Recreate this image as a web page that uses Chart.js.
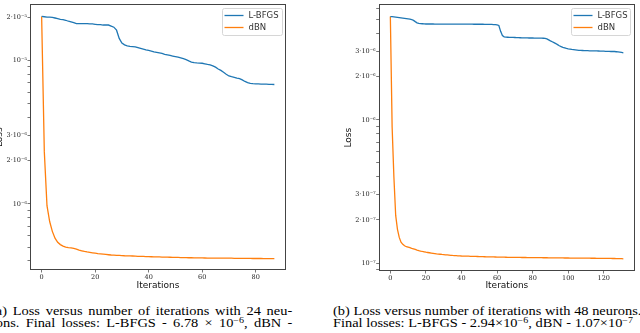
<!DOCTYPE html>
<html>
<head>
<meta charset="utf-8">
<script src="https://cdn.jsdelivr.net/npm/chart.js@4"></script>
<style>
  html, body { margin: 0; padding: 0; background: #fff; }
  body { width: 640px; height: 333px; position: relative; overflow: hidden; }
  canvas { position: absolute; top: 0; }
  #chart24 { left: -8px; }
  #chart48 { left: 330px; }
  .cap { position: absolute; top: 306px; width: 251px; font-family: "Liberation Serif", serif; font-size: 12px; line-height: 11.5px; color: #000;
         transform: scaleX(1.2); transform-origin: 0 0; }
  .cap div { white-space: nowrap; }
  .cap .j { text-align: justify; text-align-last: justify; }
  .cap sup { font-size: 0.7em; vertical-align: 0; position: relative; top: -0.45em; line-height: 0; }
  #cap24 { left: -9px; }
  #cap48 { left: 333px; }
</style>
</head>
<body>
<canvas id="chart24" width="302" height="296"></canvas>
<canvas id="chart48" width="310" height="297"></canvas>
<div class="cap" id="cap24">
  <div class="j">(a) Loss versus number of iterations with 24 neu-</div>
  <div class="j">rons. Final losses: L-BFGS - 6.78 × 10<sup>−6</sup>, dBN -</div>
</div>
<div class="cap" id="cap48">
  <div class="j">(b) Loss versus number of iterations with 48 neurons.</div>
  <div>Final losses: L-BFGS - 2.94×10<sup>−6</sup>, dBN - 1.07×10<sup>−7</sup></div>
</div>
<script>
// series labels
const seriesNames = ["L-BFGS", "dBN"];

// loss per iteration, 24 neurons (iterations 0..87)
const lbfgs24 = [
  2.02e-5, 2.01e-5, 2.00e-5, 2.00e-5, 1.99e-5, 1.97e-5, 1.95e-5, 1.93e-5, 1.92e-5, 1.90e-5,
  1.87e-5, 1.85e-5, 1.83e-5, 1.80e-5, 1.80e-5, 1.80e-5, 1.80e-5, 1.80e-5, 1.79e-5, 1.79e-5,
  1.78e-5, 1.77e-5, 1.77e-5, 1.76e-5, 1.76e-5, 1.76e-5, 1.73e-5, 1.70e-5, 1.62e-5, 1.42e-5,
  1.32e-5, 1.28e-5, 1.26e-5, 1.25e-5, 1.245e-5, 1.24e-5, 1.225e-5, 1.21e-5, 1.195e-5, 1.18e-5,
  1.17e-5, 1.16e-5, 1.145e-5, 1.135e-5, 1.125e-5, 1.115e-5, 1.10e-5, 1.09e-5, 1.08e-5, 1.07e-5,
  1.06e-5, 1.05e-5, 1.04e-5, 1.025e-5, 1.01e-5, 9.9e-6, 9.72e-6, 9.62e-6, 9.58e-6, 9.55e-6,
  9.53e-6, 9.45e-6, 9.37e-6, 9.30e-6, 9.15e-6, 8.95e-6, 8.7e-6, 8.5e-6, 8.25e-6, 8.0e-6,
  7.77e-6, 7.68e-6, 7.6e-6, 7.52e-6, 7.45e-6, 7.3e-6, 7.12e-6, 6.98e-6, 6.9e-6, 6.87e-6,
  6.85e-6, 6.84e-6, 6.83e-6, 6.82e-6, 6.81e-6, 6.80e-6, 6.79e-6, 6.78e-6
];
const dbn24 = [
  2.02e-5, 2.31e-6, 9.7e-7, 7.53e-7, 6.43e-7, 5.76e-7, 5.4e-7, 5.2e-7, 5.08e-7, 5.0e-7,
  4.96e-7, 4.94e-7, 4.9e-7, 4.84e-7, 4.76e-7, 4.71e-7, 4.66e-7, 4.62e-7, 4.59e-7, 4.56e-7,
  4.53e-7, 4.50e-7, 4.48e-7, 4.46e-7, 4.44e-7, 4.42e-7, 4.40e-7, 4.39e-7, 4.38e-7, 4.37e-7,
  4.36e-7, 4.35e-7, 4.345e-7, 4.34e-7, 4.33e-7, 4.32e-7, 4.31e-7, 4.305e-7, 4.30e-7, 4.29e-7,
  4.285e-7, 4.28e-7, 4.275e-7, 4.27e-7, 4.265e-7, 4.26e-7, 4.255e-7, 4.25e-7, 4.245e-7, 4.24e-7,
  4.235e-7, 4.23e-7, 4.225e-7, 4.22e-7, 4.215e-7, 4.21e-7, 4.21e-7, 4.205e-7, 4.20e-7, 4.20e-7,
  4.20e-7, 4.195e-7, 4.19e-7, 4.19e-7, 4.19e-7, 4.185e-7, 4.185e-7, 4.18e-7, 4.18e-7, 4.18e-7,
  4.18e-7, 4.18e-7, 4.175e-7, 4.175e-7, 4.17e-7, 4.17e-7, 4.17e-7, 4.165e-7, 4.165e-7, 4.16e-7,
  4.16e-7, 4.16e-7, 4.16e-7, 4.155e-7, 4.155e-7, 4.15e-7, 4.15e-7, 4.15e-7
];

// loss per iteration, 48 neurons (iterations 0..131)
const lbfgs48 = [
  5.26e-6, 5.25e-6, 5.23e-6, 5.21e-6, 5.19e-6, 5.17e-6, 5.15e-6, 5.13e-6, 5.11e-6, 5.09e-6,
  5.07e-6, 5.05e-6, 5.02e-6, 4.95e-6, 4.85e-6, 4.76e-6, 4.72e-6, 4.70e-6, 4.69e-6, 4.68e-6,
  4.67e-6, 4.67e-6, 4.67e-6, 4.67e-6, 4.67e-6, 4.665e-6, 4.665e-6, 4.665e-6, 4.665e-6, 4.665e-6,
  4.66e-6, 4.66e-6, 4.66e-6, 4.66e-6, 4.66e-6, 4.66e-6, 4.66e-6, 4.66e-6, 4.66e-6, 4.66e-6,
  4.66e-6, 4.66e-6, 4.655e-6, 4.655e-6, 4.655e-6, 4.655e-6, 4.655e-6, 4.65e-6, 4.65e-6, 4.65e-6,
  4.65e-6, 4.65e-6, 4.65e-6, 4.645e-6, 4.645e-6, 4.64e-6, 4.64e-6, 4.635e-6, 4.63e-6, 4.62e-6,
  4.60e-6, 4.56e-6, 4.15e-6, 3.88e-6, 3.80e-6, 3.78e-6, 3.775e-6, 3.77e-6, 3.77e-6, 3.765e-6,
  3.76e-6, 3.755e-6, 3.75e-6, 3.745e-6, 3.74e-6, 3.74e-6, 3.735e-6, 3.735e-6, 3.73e-6, 3.73e-6,
  3.73e-6, 3.725e-6, 3.725e-6, 3.72e-6, 3.72e-6, 3.72e-6, 3.715e-6, 3.71e-6, 3.68e-6, 3.62e-6,
  3.56e-6, 3.51e-6, 3.46e-6, 3.41e-6, 3.35e-6, 3.29e-6, 3.25e-6, 3.21e-6, 3.18e-6, 3.15e-6,
  3.13e-6, 3.12e-6, 3.10e-6, 3.09e-6, 3.08e-6, 3.07e-6, 3.06e-6, 3.055e-6, 3.05e-6, 3.045e-6,
  3.04e-6, 3.04e-6, 3.035e-6, 3.035e-6, 3.03e-6, 3.03e-6, 3.03e-6, 3.025e-6, 3.02e-6, 3.02e-6,
  3.015e-6, 3.01e-6, 3.01e-6, 3.005e-6, 3.0e-6, 3.0e-6, 3.0e-6, 2.99e-6, 2.98e-6, 2.97e-6,
  2.955e-6, 2.94e-6
];
const dbn48 = [
  5.26e-6, 8.9e-7, 3.97e-7, 2.15e-7, 1.72e-7, 1.51e-7, 1.40e-7, 1.35e-7, 1.32e-7, 1.30e-7,
  1.29e-7, 1.28e-7, 1.268e-7, 1.258e-7, 1.245e-7, 1.232e-7, 1.222e-7, 1.213e-7, 1.205e-7, 1.198e-7,
  1.19e-7, 1.185e-7, 1.18e-7, 1.175e-7, 1.17e-7, 1.165e-7, 1.16e-7, 1.156e-7, 1.152e-7, 1.148e-7,
  1.145e-7, 1.142e-7, 1.139e-7, 1.136e-7, 1.133e-7, 1.13e-7, 1.128e-7, 1.126e-7, 1.124e-7, 1.122e-7,
  1.12e-7, 1.119e-7, 1.118e-7, 1.117e-7, 1.116e-7, 1.115e-7, 1.114e-7, 1.113e-7, 1.112e-7, 1.111e-7,
  1.11e-7, 1.109e-7, 1.108e-7, 1.107e-7, 1.106e-7, 1.105e-7, 1.104e-7, 1.103e-7, 1.103e-7, 1.102e-7,
  1.101e-7, 1.1e-7, 1.1e-7, 1.099e-7, 1.099e-7, 1.098e-7, 1.097e-7, 1.097e-7, 1.096e-7, 1.096e-7,
  1.095e-7, 1.095e-7, 1.094e-7, 1.094e-7, 1.093e-7, 1.093e-7, 1.093e-7, 1.092e-7, 1.092e-7, 1.092e-7,
  1.091e-7, 1.091e-7, 1.091e-7, 1.09e-7, 1.09e-7, 1.09e-7, 1.089e-7, 1.089e-7, 1.089e-7, 1.088e-7,
  1.088e-7, 1.088e-7, 1.087e-7, 1.087e-7, 1.087e-7, 1.086e-7, 1.086e-7, 1.086e-7, 1.085e-7, 1.085e-7,
  1.085e-7, 1.084e-7, 1.084e-7, 1.084e-7, 1.083e-7, 1.083e-7, 1.083e-7, 1.082e-7, 1.082e-7, 1.082e-7,
  1.081e-7, 1.081e-7, 1.081e-7, 1.08e-7, 1.08e-7, 1.08e-7, 1.079e-7, 1.079e-7, 1.079e-7, 1.078e-7,
  1.078e-7, 1.078e-7, 1.077e-7, 1.077e-7, 1.077e-7, 1.076e-7, 1.076e-7, 1.075e-7, 1.075e-7, 1.074e-7,
  1.072e-7, 1.07e-7
];

// x ticks
const xTicks24 = [0, 20, 40, 60, 80];
const xTicks48 = [0, 20, 40, 60, 80, 100, 120];

// y ticks (log axis), labels only on some of them
const yTicks24 = [4e-7, 5e-7, 6e-7, 7e-7, 8e-7, 9e-7,
  1e-6, 2e-6, 3e-6, 4e-6, 5e-6, 6e-6, 7e-6, 8e-6, 9e-6, 1e-5, 2e-5];
const yLabels24 = ["", "", "", "", "", "",
  "10⁻⁶", "2·10⁻⁶", "3·10⁻⁶", "", "", "", "", "", "", "10⁻⁵", "2·10⁻⁵"];
const yTicks48 = [9e-8, 1e-7, 2e-7, 3e-7, 4e-7, 5e-7, 6e-7, 7e-7, 8e-7, 9e-7,
  1e-6, 2e-6, 3e-6, 4e-6, 5e-6, 6e-6];
const yLabels48 = ["", "10⁻⁷", "2·10⁻⁷", "3·10⁻⁷", "", "", "", "", "", "",
  "10⁻⁶", "2·10⁻⁶", "3·10⁻⁶", "", "", ""];

const BLUE = "#1f77b4";
const ORANGE = "#ff7f0e";

// frame around the plot area + legend box in the upper right
const frameLegend = {
  id: "frameLegend",
  afterDraw(chart, args, opts) {
    const { ctx, chartArea: a } = chart;
    ctx.save();
    ctx.strokeStyle = "#444";
    ctx.lineWidth = 1;
    ctx.strokeRect(Math.round(a.left) + 0.5, Math.round(a.top) + 0.5,
      Math.round(a.width) - 1, Math.round(a.height) - 1);

    const w = opts.width, h = 27;
    const x0 = Math.round(a.right - opts.right - w), y0 = Math.round(a.top + 4);
    ctx.fillStyle = "rgba(255,255,255,0.8)";
    ctx.strokeStyle = "#d6d6d6";
    ctx.beginPath();
    ctx.roundRect(x0 + 0.5, y0 + 0.5, w, h, 2);
    ctx.fill();
    ctx.stroke();
    chart.data.datasets.forEach((ds, i) => {
      const y = y0 + 7.5 + i * 12;
      ctx.strokeStyle = ds.borderColor;
      ctx.lineWidth = 1.3;
      ctx.beginPath();
      ctx.moveTo(x0 + 2.5, y);
      ctx.lineTo(x0 + 21.5, y);
      ctx.stroke();
      ctx.fillStyle = "#333";
      ctx.font = '8.5px "DejaVu Sans"';
      ctx.textBaseline = "middle";
      ctx.fillText(ds.label, x0 + 26.5, y + 0.5);
    });
    ctx.restore();
  }
};

function lossChart(id, lbfgs, dbn, xr, xTicks, yr, yTicks, yLabels, g) {
  return new Chart(document.getElementById(id), {
    type: "line",
    data: {
      datasets: [
        { label: seriesNames[0], data: lbfgs.map((v, i) => ({ x: i, y: v })), borderColor: BLUE },
        { label: seriesNames[1], data: dbn.map((v, i) => ({ x: i, y: v })), borderColor: ORANGE }
      ]
    },
    options: {
      responsive: false,
      animation: false,
      devicePixelRatio: 1,
      layout: { padding: { top: 1, right: g.padRight, left: 0, bottom: 0 } },
      elements: {
        point: { radius: 0 },
        line: { borderWidth: 1.3, tension: 0 }
      },
      plugins: {
        legend: { display: false },
        tooltip: { enabled: false },
        frameLegend: { width: g.legendW, right: g.legendRight }
      },
      scales: {
        x: {
          type: "linear",
          min: xr[0],
          max: xr[1],
          afterBuildTicks: s => { s.ticks = xTicks.map(v => ({ value: v })); },
          afterFit: s => { s.height = g.xHeight; },
          border: { display: false },
          grid: { drawOnChartArea: false, drawTicks: true, tickLength: 2.5, tickColor: "#555", tickWidth: 0.8 },
          ticks: { autoSkip: false, maxRotation: 0, padding: 0.5, color: "#222",
            font: { family: "DejaVu Serif", size: 6.5 } },
          title: { display: true, text: "Iterations", color: "#111",
            font: { family: "DejaVu Sans", size: 9 }, padding: { top: 0, bottom: g.xTitlePad } }
        },
        y: {
          type: "logarithmic",
          min: yr[0],
          max: yr[1],
          afterBuildTicks: s => { s.ticks = yTicks.map(v => ({ value: v })); },
          afterFit: s => { s.width = g.yWidth; },
          border: { display: false },
          grid: { drawOnChartArea: false, drawTicks: true, tickLength: 2.5, tickColor: "#555", tickWidth: 0.8 },
          ticks: { autoSkip: false, padding: 0.5, color: "#222",
            font: { family: "DejaVu Serif", size: 6.5 },
            callback: (value, index) => yLabels[index] },
          title: { display: true, text: "Loss", color: "#111",
            font: { family: "DejaVu Sans", size: 9 }, padding: { top: g.yTitlePad, bottom: 0 } }
        }
      }
    },
    plugins: [frameLegend]
  });
}

lossChart("chart24", lbfgs24, dbn24, [-4.35, 91.35], xTicks24, [3.46e-7, 2.45e-5], yTicks24, yLabels24,
  { padRight: 8, xHeight: 26, yWidth: 38, xTitlePad: 4.6, yTitlePad: 2.6, legendW: 60, legendRight: 4 });
lossChart("chart48", lbfgs48, dbn48, [-6.55, 137.55], xTicks48, [8.8e-8, 6.4e-6], yTicks48, yLabels48,
  { padRight: 5, xHeight: 26, yWidth: 48.7, xTitlePad: 5.6, yTitlePad: 13.6, legendW: 59, legendRight: 5 });
</script>
</body>
</html>
